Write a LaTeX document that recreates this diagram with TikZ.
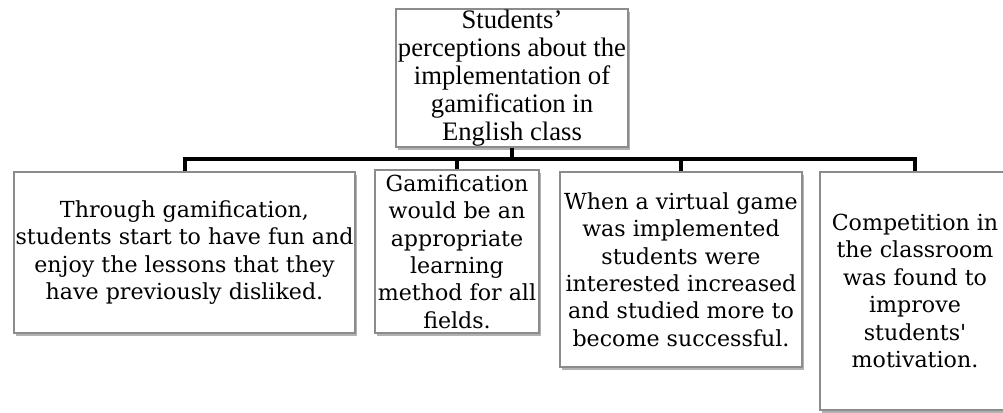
\documentclass[tikz,border=0pt]{standalone}
\usepackage{fontspec}
\setmainfont{Liberation Serif}
\newfontfamily\cardfont{DejaVu Serif}
\usetikzlibrary{shadows}

\begin{document}
\begin{tikzpicture}[x=0.75pt,y=-0.75pt]
  \tikzstyle{box}=[draw=black!45,line width=0.8pt,fill=white,inner sep=0pt,
    drop shadow={shadow xshift=1.5pt,shadow yshift=-2.5pt,opacity=0.5,fill=black!60}]
  \tikzstyle{head}=[align=center,font=\fontsize{20}{21}\selectfont]
  \tikzstyle{card}=[align=center,font=\cardfont\fontsize{16.6}{20.6}\selectfont]
  \tikzstyle{bar}=[line width=3pt,black]

  \useasboundingbox (0,0) rectangle (1003,412);

  \node[box,minimum width=174pt,minimum height=103.5pt]    (top) at (512,78)    {};
  \node[box,minimum width=255.75pt,minimum height=120.75pt] (b1) at (184.5,252.5) {};
  \node[box,minimum width=123pt,minimum height=122.25pt]    (b2) at (457,251.5)  {};
  \node[box,minimum width=181.5pt,minimum height=146.25pt]  (b3) at (681,269.5)  {};
  \node[box,minimum width=142.5pt,minimum height=178.5pt]   (b4) at (915,291)    {};

  \node[head] (topText) at (top) {Students’\\perceptions about the\\implementation of\\gamification in\\English class};
  \node[card] (b1Text) at (b1) {Through gamification,\\students start to have fun and\\enjoy the lessons that they\\have previously disliked.};
  \node[card] (b2Text) at (b2) {Gamification\\would be an\\appropriate\\learning\\method for all\\fields.};
  \node[card] (b3Text) at (b3) {When a virtual game\\was implemented\\students were\\interested increased\\and studied more to\\become successful.};
  \node[card] (b4Text) at (b4) {Competition in\\the classroom\\was found to\\improve\\students\textquotesingle\\motivation.};

  \coordinate (bus) at (0,159);
  \draw[bar] (top.south) -- (top.south |- bus);
  \draw[bar] (b1.north) |- (bus -| b4.north) -- (b4.north);
  \draw[bar] (b2.north) -- (b2.north |- bus);
  \draw[bar] (b3.north) -- (b3.north |- bus);
\end{tikzpicture}
\end{document}
